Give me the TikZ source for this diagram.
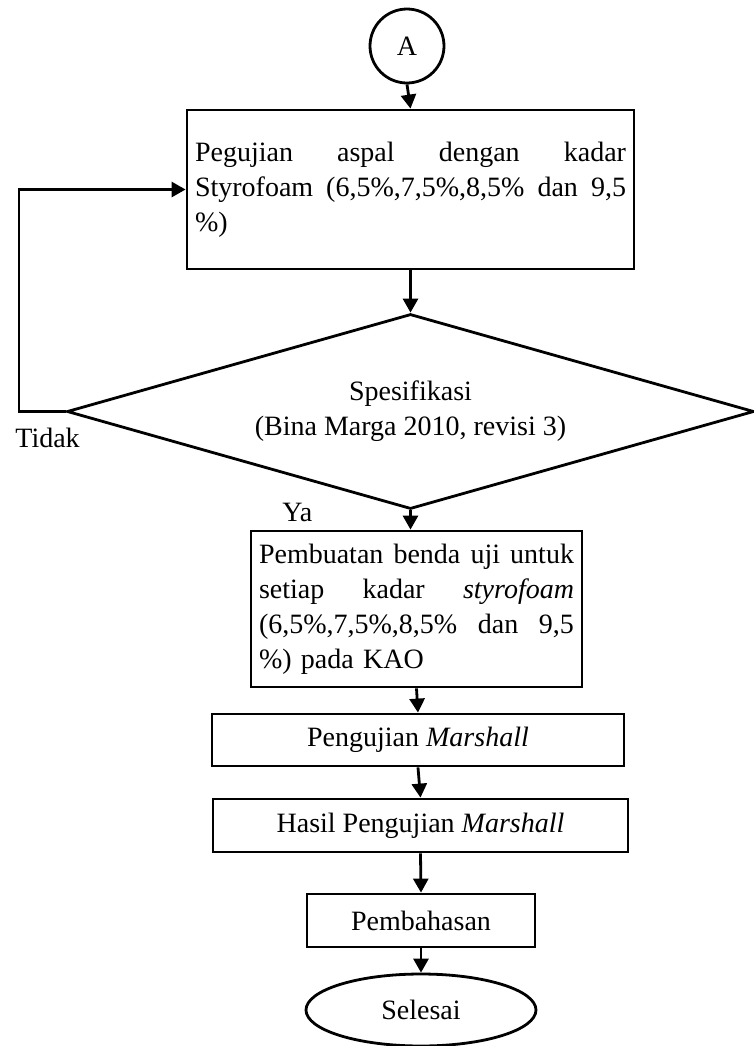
\documentclass[tikz,border=0pt]{standalone}
\usepackage{fontspec}
\setmainfont{Liberation Serif}
\usetikzlibrary{arrows.meta,shapes.geometric}
\tikzset{>={Triangle[length=7pt,width=7.5pt]},every node/.style={font=\fontsize{14}{17.5}\selectfont},
flow/.style={line width=1.4pt,->},box/.style={draw,line width=1.4pt,inner sep=0pt},
label/.style={anchor=base west,inner sep=0pt}}
\newcommand{\rata}[2]{\leavevmode\hbox to #1{\spaceskip=.25em plus 1fil\relax#2}\\}

\begin{document}
\begin{tikzpicture}[x=.5pt,y=-.5pt]
% Diagram alir: dari titik A sampai selesai, dengan ulang bila spesifikasi tidak terpenuhi.
\useasboundingbox (0,0) rectangle (754,1046);
\node[box,circle,minimum size=37pt] (A) at (407,46){A};
\node[box,minimum width=223.5pt,minimum height=79.5pt,text width=215.5pt,align=left] (uji) at (410.5,189.5)
{\rata{215.5pt}{Pegujian aspal dengan kadar}\rata{215.5pt}{Styrofoam (6,5\%,7,5\%,8,5\% dan 9,5}\%)};
\node[box,diamond,aspect=3.5,minimum width=343.5pt,minimum height=97.5pt,align=center] (spek) at (410.5,411.5)
{Spesifikasi\\(Bina Marga 2010, revisi 3)};
\node[label] (tidak) at (15,447){Tidak};
\node[label] (ya) at (282,521){Ya};
\node[box,minimum width=165.5pt,minimum height=78pt,text width=157.5pt,align=left] (benda) at (416.5,609)
{\rata{157.5pt}{Pembuatan benda uji untuk}\rata{157.5pt}{setiap kadar \textit{styrofoam}}\rata{157.5pt}{(6,5\%,7,5\%,8,5\% dan 9,5}\%) pada KAO};
\node[box,minimum width=206pt,minimum height=26pt] (marshall) at (418,740){Pengujian \textit{Marshall}};
\node[box,minimum width=207.5pt,minimum height=26.5pt] (hasil) at (420.5,825.5){Hasil Pengujian \textit{Marshall}};
\node[box,minimum width=114pt,minimum height=26.5pt] (bahas) at (421,920.5){Pembahasan};
\node[box,ellipse,minimum width=115pt,minimum height=36pt] (selesai) at (421,1010){Selesai};
\coordinate (balik) at (19,411.5);
\draw[flow] (A.south)--(uji.north);
\draw[flow] (uji.south)--(spek.north);
\draw[flow] (spek.west)--(balik)|-(uji.west);
\draw[flow] (spek.south)--(spek.south|-benda.north);
\draw[flow] (benda.south)--(marshall.north);
\draw[flow] (marshall.south)--(hasil.north);
\draw[flow] (hasil.south)--(bahas.north);
\draw[flow] (bahas.south)--(selesai.north);
\end{tikzpicture}
\end{document}
